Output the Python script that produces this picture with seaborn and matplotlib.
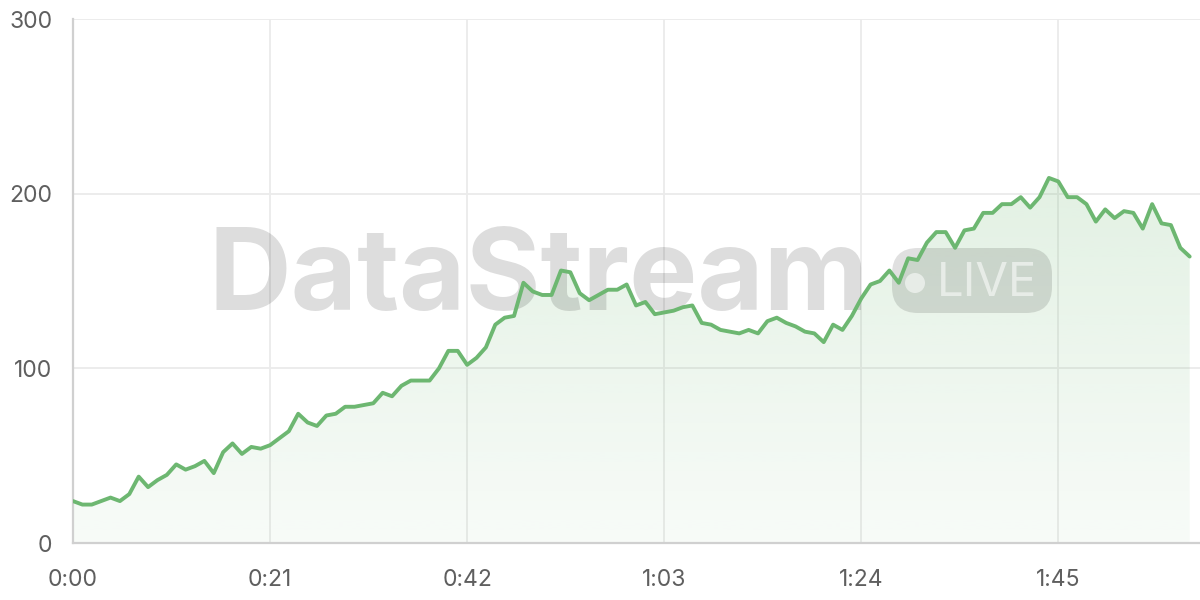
import numpy as np
import matplotlib
matplotlib.use("Agg")
import matplotlib.pyplot as plt
import seaborn as sns
from matplotlib.patches import FancyBboxPatch, Circle
from matplotlib.transforms import IdentityTransform
from matplotlib.colors import to_rgb

# ---- data ----
seconds = list(range(120))
viewers = [24, 22, 22, 24, 26, 24, 28, 38, 32, 36,
           39, 45, 42, 44, 47, 40, 52, 57, 51, 55,
           54, 56, 60, 64, 74, 69, 67, 73, 74, 78,
           78, 79, 80, 86, 84, 90, 93, 93, 93, 100,
           110, 110, 102, 106, 112, 125, 129, 130, 149, 144,
           142, 142, 156, 155, 143, 139, 142, 145, 145, 148,
           136, 138, 131, 132, 133, 135, 136, 126, 125, 122,
           121, 120, 122, 120, 127, 129, 126, 124, 121, 120,
           115, 125, 122, 130, 140, 148, 150, 156, 149, 163,
           162, 172, 178, 178, 169, 179, 180, 189, 189, 194,
           194, 198, 192, 198, 209, 207, 198, 198, 194, 184,
           191, 186, 190, 189, 180, 194, 183, 182, 169, 164]
tick_seconds = [0, 21, 42, 63, 84, 105]
tick_labels = ["0:00", "0:21", "0:42", "1:03", "1:24", "1:45"]
y_ticks = [0, 100, 200, 300]
y_labels = ["0", "100", "200", "300"]
watermark = "DataStream"
badge = "LIVE"

sns.set_theme(style="white")
plt.rcParams['font.family'] = ['Inter', 'DejaVu Sans']

W, H = 1200, 600
fig = plt.figure(figsize=(12, 6), dpi=100)
fig.patch.set_facecolor("white")
ax = fig.add_axes([73 / W, 57 / H, 1 - 73 / W, (543 - 19) / H])
ax.set_facecolor("white")

green = to_rgb("#6db771")

# gradient fill under the line
grad = np.zeros((256, 1, 4))
grad[..., :3] = green
grad[..., 3] = np.linspace(0.05, 0.26, 256)[:, None]
im = ax.imshow(grad, extent=[0, 119, 0, 300], origin="lower", aspect="auto",
               zorder=1, interpolation="bilinear")
poly = ax.fill_between(seconds, viewers, 0, color="none", lw=0)
im.set_clip_path(poly.get_paths()[0], transform=ax.transData)

# watermark
ax.text(208, H - 310, watermark, transform=IdentityTransform(), fontsize=82.5,
        fontweight="bold", color="black", alpha=0.135, ha="left", va="baseline",
        zorder=3)
pill = FancyBboxPatch((892, H - 313), 160, 65,
                      boxstyle="round,pad=0,rounding_size=26",
                      transform=IdentityTransform(), facecolor="black",
                      alpha=0.12, lw=0, zorder=3)
ax.add_patch(pill)
dot = Circle((915, H - 283), 10, transform=IdentityTransform(),
             facecolor="white", alpha=0.55, lw=0, zorder=3.1)
ax.add_patch(dot)
ax.text(937, H - 296, badge, transform=IdentityTransform(), fontsize=34,
        color="white", alpha=0.55, ha="left", va="baseline", zorder=3.1)

# line
sns.lineplot(x=seconds, y=viewers, ax=ax, color=green, lw=2.8, zorder=4)

ax.set_xlim(0, 120.1)
ax.set_ylim(0, 300)
ax.set_xticks(tick_seconds)
ax.set_xticklabels(tick_labels)
ax.set_yticks(y_ticks)
ax.set_yticklabels(y_labels)
ax.set_xlabel("")
ax.set_ylabel("")

ax.grid(True, color="#ebebeb", lw=1.3, zorder=0)
ax.set_axisbelow(True)
for s in ["top", "right"]:
    ax.spines[s].set_visible(False)
for s in ["left", "bottom"]:
    ax.spines[s].set_color("#d0d0d0")
    ax.spines[s].set_linewidth(1.6)
ax.tick_params(axis="both", length=11, width=1.2, color="#e4e4e4",
               labelsize=16.5, labelcolor="#5f5f5f")
ax.tick_params(axis="y", pad=4)
ax.tick_params(axis="x", pad=8)

fig.savefig("out.png", dpi=100)
